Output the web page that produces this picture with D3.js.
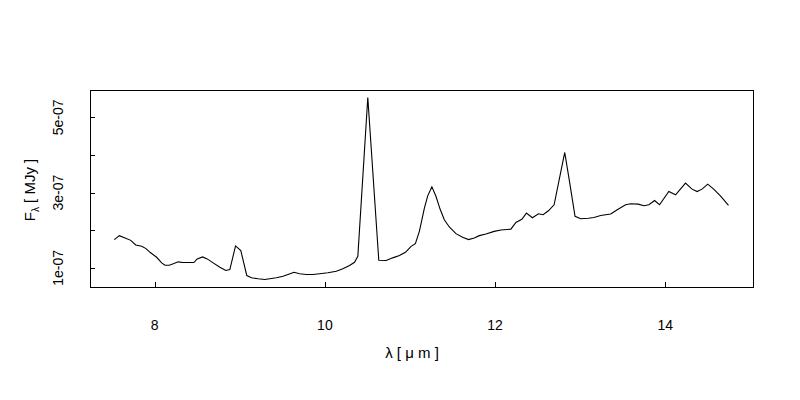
<!DOCTYPE html>
<html>
<head>
<meta charset="utf-8">
<script src="https://cdn.jsdelivr.net/npm/d3@7"></script>
<style>
    body { margin: 0; background: #fff; }
    text { font-family: "Liberation Sans", Arial, sans-serif; fill: #000; }
</style>
</head>
<body>
<svg id="chart" width="800" height="400"></svg>
<script>
'use strict';

// wavelength in micron
var wavelength = [
    7.526, 7.585, 7.652, 7.719, 7.777, 7.848, 7.898, 7.945, 8.023, 8.082,
    8.121, 8.171, 8.218, 8.277, 8.328, 8.394, 8.461, 8.499, 8.563, 8.617,
    8.687, 8.766, 8.836, 8.883, 8.950, 9.012, 9.082, 9.137, 9.215, 9.293,
    9.352, 9.430, 9.508, 9.566, 9.637, 9.703, 9.782, 9.859, 9.938, 10.035,
    10.134, 10.211, 10.290, 10.348, 10.387, 10.504, 10.633, 10.720, 10.797, 10.876,
    10.946, 11.013, 11.063, 11.110, 11.169, 11.208, 11.257, 11.306, 11.353, 11.403,
    11.462, 11.540, 11.618, 11.688, 11.755, 11.814, 11.892, 11.989, 12.068, 12.185,
    12.244, 12.314, 12.368, 12.438, 12.509, 12.564, 12.626, 12.693, 12.818, 12.869,
    12.939, 13.006, 13.095, 13.162, 13.240, 13.358, 13.435, 13.533, 13.592, 13.681,
    13.748, 13.807, 13.873, 13.932, 14.041, 14.120, 14.237, 14.314, 14.373, 14.431,
    14.498, 14.568, 14.647, 14.742
];

// flux in units of 1e-07 MJy
var flux = [
    1.750, 1.856, 1.795, 1.731, 1.609, 1.572, 1.511, 1.413, 1.281, 1.132,
    1.069, 1.069, 1.106, 1.159, 1.140, 1.140, 1.140, 1.238, 1.291, 1.238,
    1.132, 1.016, 0.928, 0.955, 1.583, 1.458, 0.796, 0.735, 0.709, 0.690,
    0.709, 0.735, 0.777, 0.823, 0.883, 0.841, 0.823, 0.823, 0.841, 0.868,
    0.910, 0.974, 1.061, 1.148, 1.307, 5.530, 1.201, 1.193, 1.265, 1.326,
    1.413, 1.572, 1.644, 1.970, 2.589, 2.915, 3.154, 2.897, 2.563, 2.279,
    2.086, 1.909, 1.811, 1.750, 1.795, 1.856, 1.901, 1.970, 2.007, 2.028,
    2.208, 2.293, 2.457, 2.332, 2.438, 2.412, 2.518, 2.677, 4.068, 3.366,
    2.372, 2.306, 2.319, 2.340, 2.393, 2.430, 2.544, 2.677, 2.703, 2.695,
    2.650, 2.677, 2.791, 2.677, 3.029, 2.942, 3.252, 3.093, 3.029, 3.093,
    3.225, 3.093, 2.915, 2.664
];

var xTicks = [8, 10, 12, 14];
var yTicks = [1e-7, 2e-7, 3e-7, 4e-7, 5e-7];
var yTickLabels = ['1e-07', '', '3e-07', '', '5e-07'];

var svg = d3.select('#chart'),
    x = d3.scaleLinear().domain([7.24, 15.03]).range([90, 753]),
    y = d3.scaleLinear().domain([0.49e-7, 5.73e-7]).range([287, 90]),
    points = wavelength.map(function( w, i ){
        return { w: w, f: flux[i] * 1e-7 };
    }),
    tick = 5;

var line = d3.line()
    .x(function( d ){ return x(d.w); })
    .y(function( d ){ return y(d.f); });

svg.append('path')
    .datum(points)
    .attr('d', line)
    .attr('fill', 'none')
    .attr('stroke', '#000')
    .attr('stroke-width', 1.1);

// box
svg.append('rect')
    .attr('x', x.range()[0] + 0.5)
    .attr('y', y.range()[1] + 0.5)
    .attr('width', x.range()[1] - x.range()[0])
    .attr('height', y.range()[0] - y.range()[1])
    .attr('fill', 'none')
    .attr('stroke', '#000')
    .attr('shape-rendering', 'crispEdges');

// ticks point inward
svg.selectAll('line.xtick')
    .data(xTicks)
    .enter().append('line')
    .attr('class', 'xtick')
    .attr('x1', function( d ){ return Math.round(x(d)) + 0.5; })
    .attr('x2', function( d ){ return Math.round(x(d)) + 0.5; })
    .attr('y1', y.range()[0])
    .attr('y2', y.range()[0] - tick)
    .attr('stroke', '#000')
    .attr('shape-rendering', 'crispEdges');

svg.selectAll('text.xlab')
    .data(xTicks)
    .enter().append('text')
    .attr('class', 'xlab')
    .attr('x', function( d ){ return x(d); })
    .attr('y', 330)
    .attr('text-anchor', 'middle')
    .style('font-size', '14px')
    .text(function( d ){ return d; });

svg.selectAll('line.ytick')
    .data(yTicks)
    .enter().append('line')
    .attr('class', 'ytick')
    .attr('x1', x.range()[0])
    .attr('x2', x.range()[0] + tick)
    .attr('y1', function( d ){ return Math.round(y(d)) + 0.5; })
    .attr('y2', function( d ){ return Math.round(y(d)) + 0.5; })
    .attr('stroke', '#000')
    .attr('shape-rendering', 'crispEdges');

svg.selectAll('text.ylab')
    .data(yTicks)
    .enter().append('text')
    .attr('class', 'ylab')
    .attr('transform', function( d ){
        return 'translate(63,' + y(d) + ') rotate(-90)';
    })
    .attr('text-anchor', 'middle')
    .style('font-size', '14px')
    .text(function( d, i ){ return yTickLabels[i]; });

// axis titles
svg.append('text')
    .attr('x', 412)
    .attr('y', 358)
    .attr('text-anchor', 'middle')
    .style('font-size', '15px')
    .text('λ [ μ m ]');

var ytitle = svg.append('text')
    .attr('transform', 'translate(35,190) rotate(-90)')
    .attr('text-anchor', 'middle')
    .style('font-size', '15px');
ytitle.append('tspan').text('F');
ytitle.append('tspan').attr('dy', 4).style('font-size', '10px').text('λ');
ytitle.append('tspan').attr('dy', -4).text(' [ MJy ]');
</script>
</body>
</html>
